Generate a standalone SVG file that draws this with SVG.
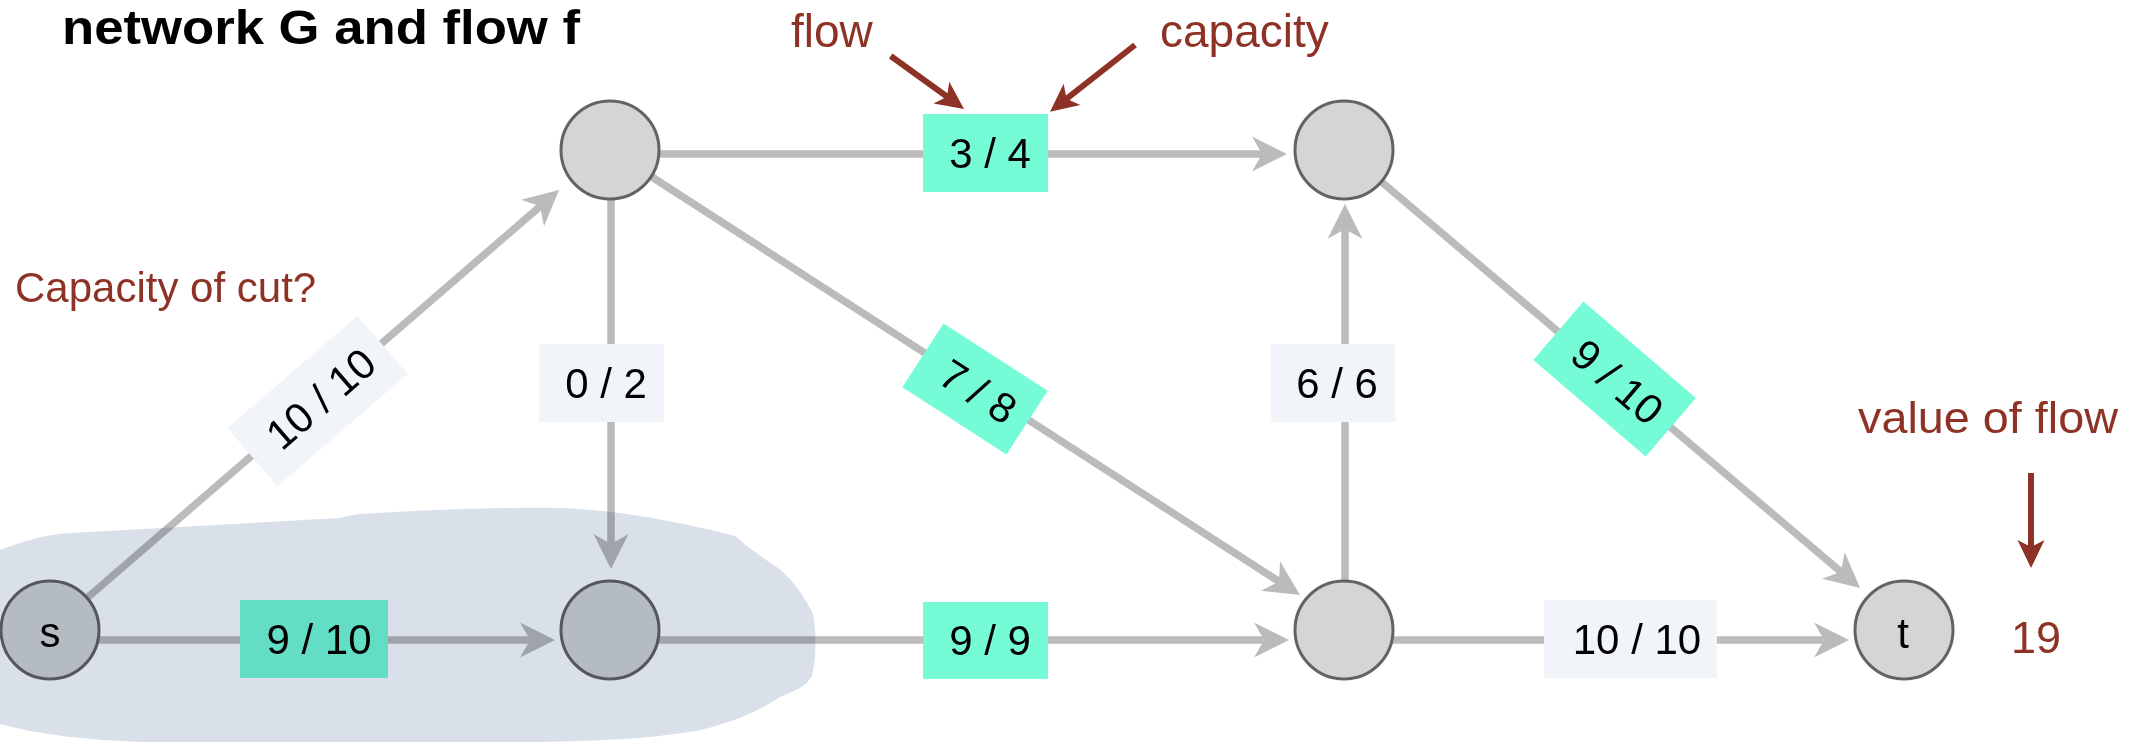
<svg xmlns="http://www.w3.org/2000/svg" width="2130" height="743" viewBox="0 0 2130 743">
<style>
.edge{stroke:#bbbbbb;stroke-width:7.5;fill:none;marker-end:url(#ah)}
.red{stroke:#8e3226;stroke-width:6;fill:none;marker-end:url(#rh)}
.node{fill:#d5d5d5;stroke:#636363;stroke-width:3}
.lbl{font-family:"Liberation Sans",Arial,sans-serif;font-size:42px;fill:#000;text-anchor:middle}
.nlbl{font-family:"Liberation Sans",Arial,sans-serif;font-size:42px;fill:#000;text-anchor:middle}
.note{font-family:"Liberation Sans",Arial,sans-serif;fill:#8e3226}
.teal{fill:#75fcd7}
.light{fill:#f1f5f9}
</style>
<defs>
<marker id="ah" markerUnits="userSpaceOnUse" orient="auto" overflow="visible" markerWidth="1" markerHeight="1" refX="0" refY="0">
<path d="M20,0 L-15,-17.5 L-5,0 L-15,17.5 Z" fill="#bbbbbb"/>
</marker>
<marker id="rh" markerUnits="userSpaceOnUse" orient="auto" overflow="visible" markerWidth="1" markerHeight="1" refX="0" refY="0">
<path d="M14,0 L-14,-13.5 L-7,0 L-14,13.5 Z" fill="#8e3226"/>
</marker>
</defs>
<rect x="0" y="0" width="2130" height="743" fill="#ffffff"/>
<text x="62" y="44" font-family="'Liberation Sans',Arial,sans-serif" font-weight="bold" font-size="48" textLength="518" lengthAdjust="spacingAndGlyphs" fill="#000">network G and flow f</text>

<g id="connectors">
<line class="edge" x1="50" y1="630" x2="543.9" y2="203.1"/>
<line class="edge" x1="50" y1="640" x2="535" y2="640"/>
<line class="edge" x1="611" y1="150" x2="611" y2="549"/>
<line class="edge" x1="610" y1="154" x2="1267" y2="154"/>
<line class="edge" x1="610" y1="150" x2="1283.2" y2="584.2"/>
<line class="edge" x1="610" y1="640" x2="1269" y2="640"/>
<line class="edge" x1="1345" y1="630" x2="1345" y2="224"/>
<line class="edge" x1="1344" y1="150" x2="1844.8" y2="575.1"/>
<line class="edge" x1="1344" y1="640" x2="1829" y2="640"/>

<g id="label-sA" transform="translate(317.5,401) rotate(-40.8)">
<rect class="light" x="-86" y="-38.5" width="172" height="77"/>
<text class="lbl" x="4" y="15">10 / 10</text>
</g>
<g id="label-sB">
<rect class="teal" x="240" y="600" width="148" height="78"/>
<text class="lbl" x="319" y="654">9 / 10</text>
</g>
<g id="label-AB">
<rect class="light" x="539" y="344" width="125" height="78"/>
<text class="lbl" x="606" y="398">0 / 2</text>
</g>
<g id="label-AC">
<rect class="teal" x="923" y="114" width="125" height="78"/>
<text class="lbl" x="990" y="168">3 / 4</text>
</g>
<g id="label-AD" transform="translate(975,389) rotate(32.8)">
<rect class="teal" x="-62" y="-38" width="124" height="76"/>
<text class="lbl" x="4" y="15">7 / 8</text>
</g>
<g id="label-BD">
<rect class="teal" x="923" y="602" width="125" height="77"/>
<text class="lbl" x="990" y="655">9 / 9</text>
</g>
<g id="label-DC">
<rect class="light" x="1270.5" y="344" width="125" height="78"/>
<text class="lbl" x="1337" y="398">6 / 6</text>
</g>
<g id="label-Ct" transform="translate(1614.6,379) rotate(40.6)">
<rect class="teal" x="-74" y="-38.5" width="148" height="77"/>
<text class="lbl" x="4" y="15">9 / 10</text>
</g>
<g id="label-Dt">
<rect class="light" x="1544" y="600" width="173" height="78"/>
<text class="lbl" x="1637" y="654">10 / 10</text>
</g>
</g>

<g id="node-s"><circle class="node" cx="50" cy="630" r="49"/><text class="nlbl" x="50" y="647">s</text></g>
<g id="node-A"><circle class="node" cx="610" cy="150" r="49"/></g>
<g id="node-B"><circle class="node" cx="610" cy="630" r="49"/></g>
<g id="node-C"><circle class="node" cx="1344" cy="150" r="49"/></g>
<g id="node-D"><circle class="node" cx="1344" cy="630" r="49"/></g>
<g id="node-t"><circle class="node" cx="1904" cy="630" r="49"/><text class="nlbl" x="1903" y="648">t</text></g>

<g id="annotations">
<text class="note" x="791" y="47" font-size="46">flow</text>
<text class="note" x="1160" y="47" font-size="46">capacity</text>
<text class="note" x="15" y="302" font-size="42">Capacity of cut?</text>
<text class="note" x="1858" y="433" font-size="45" textLength="260" lengthAdjust="spacingAndGlyphs">value of flow</text>
<text class="note" x="2011" y="653" font-size="45">19</text>
<line class="red" x1="890.7" y1="56" x2="952.7" y2="100.8"/>
<line class="red" x1="1135" y1="45" x2="1061" y2="103.1"/>
<line class="red" x1="2031" y1="473" x2="2031" y2="554"/>
</g>

<path id="cut" d="M -20,556 C 10,548 30,536 70,533 L 180,527 L 340,518 C 348,516 352,515 360,514 C 420,510 500,507 560,508 C 620,510 680,522 735,536 C 745,545 760,556 778,568 C 795,582 805,598 813,614 C 816,630 817,655 812,676 C 805,688 795,690 780,697 C 760,710 735,722 700,730 C 660,738 600,741 540,742 L 140,742 C 90,740 40,735 0,724 L -20,720 Z" fill="#d9e0ea" style="mix-blend-mode:multiply"/>
</svg>
